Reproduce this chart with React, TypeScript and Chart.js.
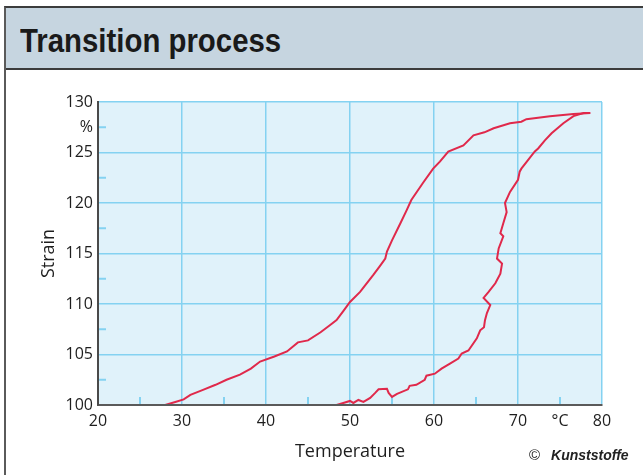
import React, { useEffect, useRef } from 'react';
import { Chart, registerables } from 'chart.js';
Chart.register(...registerables);

// Upper (left) branch of the loop
const upperTemp = [28.0, 29.2, 30.2, 31.0, 32.5, 34.0, 35.3, 36.9, 38.2, 39.3, 41.0, 42.5, 43.8, 45.0, 46.5, 47.6, 48.4, 49.2, 50.0, 51.2, 52.8, 53.6, 54.2, 54.4, 55.0, 56.0, 56.75, 57.3, 58.7, 59.9, 60.7, 61.7, 63.5, 64.7, 66.0, 67.1, 69.05, 70.4, 71.0, 73.8, 76.6, 78.6];
const upperStrain = [100.0, 100.3, 100.56, 101.0, 101.5, 102.0, 102.5, 103.0, 103.6, 104.3, 104.8, 105.3, 106.2, 106.4, 107.2, 107.9, 108.4, 109.3, 110.2, 111.2, 112.9, 113.8, 114.5, 115.2, 116.3, 118.0, 119.3, 120.3, 122.0, 123.4, 124.1, 125.1, 125.7, 126.7, 127.0, 127.4, 127.9, 128.05, 128.3, 128.6, 128.8, 128.9];

// Lower (right) branch of the loop
const lowerTemp = [48.4, 49.2, 50.0, 50.4, 51.0, 51.6, 52.4, 53.0, 53.4, 54.4, 54.6, 55.0, 55.6, 56.9, 57.1, 57.9, 58.9, 59.1, 60.1, 60.9, 61.9, 62.9, 63.3, 64.1, 65.1, 65.5, 65.95, 66.07, 66.3, 66.7, 65.9, 66.5, 67.3, 67.9, 68.1, 67.5, 67.7, 68.25, 67.9, 68.25, 68.65, 68.45, 69.05, 70.0, 70.2, 70.4, 72.0, 72.4, 73.2, 74.0, 75.4, 76.6, 77.8, 78.6];
const lowerStrain = [100.0, 100.2, 100.4, 100.2, 100.5, 100.3, 100.7, 101.2, 101.55, 101.6, 101.2, 100.8, 101.1, 101.55, 101.9, 102.0, 102.5, 102.9, 103.1, 103.6, 104.1, 104.6, 105.1, 105.4, 106.6, 107.4, 107.7, 108.4, 109.1, 109.9, 110.6, 111.2, 112.05, 113.0, 114.0, 114.5, 115.5, 116.7, 117.0, 118.0, 119.1, 120.0, 121.1, 122.3, 123.1, 123.4, 125.1, 125.4, 126.2, 126.9, 127.9, 128.6, 128.9, 128.9];

const xTickLabels = ['20', '', '30', '', '40', '', '50', '', '60', '', '70', '°C', '80'];
const yTickLabels = ['100', '', '105', '', '110', '', '115', '', '120', '', '125', '%', '130'];
const xMinorTicks = [25, 35, 45, 55, 65, 75];
const yMinorTicks = [102.5, 107.5, 112.5, 117.5, 122.5, 127.5];

const GRID = '#84d2f1';
const PLOT_BG = '#e0f2fa';
const CURVE = '#e0294b';

const plotPlugin = {
  id: 'plotDecor',
  beforeDraw(chart: any) {
    const { ctx, chartArea: a } = chart;
    ctx.save();
    ctx.fillStyle = PLOT_BG;
    ctx.fillRect(a.left, a.top, a.right - a.left, a.bottom - a.top);
    ctx.restore();
  },
  beforeDatasetsDraw(chart: any) {
    const { ctx, chartArea: a, scales } = chart;
    ctx.save();
    ctx.strokeStyle = GRID;
    ctx.lineWidth = 2;
    xMinorTicks.forEach((v) => {
      const px = scales.x.getPixelForValue(v);
      ctx.beginPath();
      ctx.moveTo(px, a.bottom);
      ctx.lineTo(px, a.bottom - 8);
      ctx.stroke();
    });
    yMinorTicks.forEach((v) => {
      const py = scales.y.getPixelForValue(v);
      ctx.beginPath();
      ctx.moveTo(a.left, py);
      ctx.lineTo(a.left + 8, py);
      ctx.stroke();
    });
    ctx.restore();
  },
};

export default function App() {
  const ref = useRef<HTMLCanvasElement>(null);
  useEffect(() => {
    if (!ref.current) return;
    const chart = new Chart(ref.current, {
      type: 'line',
      data: {
        datasets: [
          {
            data: upperTemp.map((t, i) => ({ x: t, y: upperStrain[i] })),
            borderColor: CURVE,
            borderWidth: 2,
            pointRadius: 0,
            tension: 0,
            fill: false,
          },
          {
            data: lowerTemp.map((t, i) => ({ x: t, y: lowerStrain[i] })),
            borderColor: CURVE,
            borderWidth: 2,
            pointRadius: 0,
            tension: 0,
            fill: false,
          },
        ],
      },
      options: {
        responsive: false,
        animation: false,
        devicePixelRatio: 1,
        layout: { padding: { left: 30, right: 41, top: 102, bottom: 0 } },
        plugins: { legend: { display: false }, tooltip: { enabled: false } },
        scales: {
          x: {
            type: 'linear',
            min: 20,
            max: 80,
            afterFit: (s: any) => { s.height = 70; },
            ticks: {
              stepSize: 5,
              autoSkip: false,
              maxRotation: 0,
              padding: 7,
              color: '#1e1e1e',
              font: { family: 'Open Sans', size: 16 },
              callback: (_v: any, i: number) => xTickLabels[i],
            },
            grid: {
              drawTicks: false,
              lineWidth: 1.5,
              color: (c: any) => (c.tick && c.tick.value % 10 === 0 && c.tick.value !== 20 ? GRID : 'rgba(0,0,0,0)'),
            },
            border: { display: true, color: '#5a5a5a', width: 2, z: 1 },
            title: {
              display: true,
              text: 'Temperature',
              color: '#1e1e1e',
              font: { family: 'Open Sans', size: 18 },
              padding: { top: 0, bottom: 12 },
            },
          },
          y: {
            type: 'linear',
            min: 100,
            max: 130,
            afterFit: (s: any) => { s.width = 68; },
            ticks: {
              stepSize: 2.5,
              autoSkip: false,
              padding: 5,
              color: '#1e1e1e',
              font: { family: 'Open Sans', size: 16 },
              callback: (_v: any, i: number) => yTickLabels[i],
            },
            grid: {
              drawTicks: false,
              lineWidth: 1.5,
              color: (c: any) => (c.tick && c.tick.value % 5 === 0 && c.tick.value !== 100 ? GRID : 'rgba(0,0,0,0)'),
            },
            border: { display: true, color: '#4a4a4a', width: 2, z: 1 },
            title: {
              display: true,
              text: 'Strain',
              color: '#1e1e1e',
              font: { family: 'Open Sans', size: 18 },
              padding: { top: 8, bottom: 0 },
            },
          },
        },
      },
      plugins: [plotPlugin],
    } as any);
    return () => chart.destroy();
  }, []);

  return (
    <div style={{ position: 'fixed', left: 0, top: 0, width: 643, height: 475, overflow: 'hidden', background: '#fff' }}>
      <div style={{ position: 'absolute', left: 4, top: 6, width: 700, height: 520, borderTop: '2px solid #3c3c3c', borderLeft: '2px solid #5a5a5a', boxSizing: 'border-box' }} />
      <div style={{ position: 'absolute', left: 6, top: 8, width: 700, height: 62, background: '#c6d5e0', borderBottom: '2px solid #3c3c3c', boxSizing: 'border-box' }} />
      <div style={{ position: 'absolute', left: 20, top: 24, fontFamily: '"Liberation Sans", Arial, sans-serif', fontWeight: 'bold', fontSize: 33, lineHeight: '33px', color: '#1a1a1a', whiteSpace: 'nowrap', display: 'inline-block', transform: 'scaleX(0.89)', transformOrigin: 'left top' }}>
        Transition process
      </div>
      <canvas ref={ref} width={643} height={475} style={{ position: 'absolute', left: 0, top: 0, width: 643, height: 475 }} />
      <div style={{ position: 'absolute', left: 529, top: 446, fontFamily: '"Liberation Sans", Arial, sans-serif', fontSize: 14, lineHeight: '18px', color: '#222', whiteSpace: 'nowrap' }}>
        <span style={{ fontSize: 15 }}>©</span>
        <span style={{ marginLeft: 11, fontWeight: 'bold', fontStyle: 'italic' }}>Kunststoffe</span>
      </div>
    </div>
  );
}
